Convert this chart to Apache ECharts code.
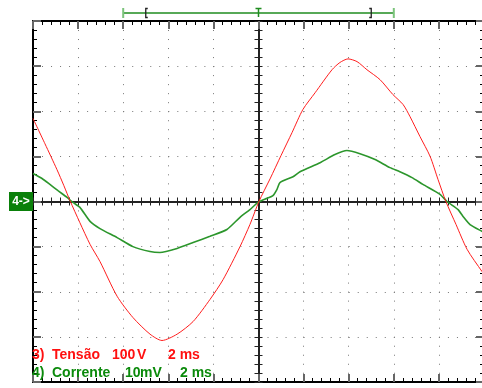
<!DOCTYPE html>
<html><head><meta charset="utf-8">
<script src="https://cdn.jsdelivr.net/npm/echarts@6/dist/echarts.min.js"></script>
<style>html,body{margin:0;padding:0;background:#fff}#c{width:482px;height:388px}</style>
</head><body><div id="c"></div>
<script>
// Channel 3: Tensão (V), 100 V/div, 2 ms/div
const redTime = [0, 0.53, 1.06, 1.37, 1.64, 2.08, 2.53, 2.97, 3.73, 4.43, 5.19, 5.72, 6.39, 7.10, 7.85, 8.43, 9.18, 9.62, 10.02, 10.51, 11.0, 11.49, 11.97, 12.51, 13.26, 13.61, 13.97, 14.37, 14.81, 15.39, 15.96, 16.41, 16.72, 17.16, 17.61, 17.96, 18.31, 18.76, 19.25, 19.91, 20];
const redVolts = [184, 128, 71, 35, 2, -47, -95, -133, -210, -257, -294, -308, -294, -266, -217, -173, -100, -51, 0, 50, 102, 153, 204, 241, 292, 308, 316, 310, 292, 270, 237, 215, 188, 144, 100, 49, 0, -51, -106, -155, -160];
// Channel 4: Corrente (mV), 10 mV/div
const greenTime = [0, 0.40, 0.75, 1.11, 1.51, 1.77, 2.08, 2.53, 2.97, 3.73, 4.43, 5.19, 5.63, 6.39, 7.10, 7.85, 8.60, 9.18, 9.62, 9.98, 10.38, 10.64, 10.82, 10.95, 11.53, 11.84, 12.73, 13.39, 13.92, 14.50, 15.17, 15.83, 16.27, 16.81, 17.29, 18.05, 18.36, 18.85, 19.07, 19.38, 19.91, 20];
const greenMilliVolts = [6.2, 5.1, 3.8, 2.4, 0.9, -0.2, -1.3, -4.4, -6.0, -8.0, -10.0, -11.1, -11.3, -10.4, -9.1, -7.7, -6.2, -3.5, -1.8, -0.2, 0.7, 1.3, 2.7, 4.2, 5.5, 6.6, 8.6, 10.4, 11.3, 10.6, 9.3, 7.5, 6.6, 5.3, 3.8, 1.6, 0, -1.8, -3.3, -5.1, -6.6, -6.8];
// Trigger / cursor markers on the time axis (ms)
const markerEnds = [4, 16];
const markerBrackets = [5, 15];
const markerTrigger = 10;
const redLabel = [['3)', 32], ['Tensão', 52], ['100', 112], ['V', 137], ['2 ms', 168]];
const greenLabel = [['4)', 32], ['Corrente', 52], ['10', 125], ['mV', 140], ['2 ms', 180]];

const GL = 33, GT = 21, GW = 451, GH = 361;
const chart = echarts.init(document.getElementById('c'), null, {renderer: 'canvas'});

function frameAxis(kind, pos, split) {
  const isX = kind === 'x';
  return {
    type: 'value', position: pos,
    min: isX ? 0 : -400, max: isX ? 20 : 400, interval: isX ? 2 : 100,
    axisLine: {show: true, onZero: false, lineStyle: {color: '#000', width: 2}},
    axisTick: {show: true, inside: true, length: 8, lineStyle: {color: '#666', width: 2}},
    minorTick: {show: true, splitNumber: 5, length: 4, lineStyle: {color: '#000', width: 1}},
    axisLabel: {show: false},
    splitLine: {show: split, lineStyle: {color: '#777', width: 1, type: [1, 8.02]}},
    minorSplitLine: {show: false}
  };
}
function centerAxis(kind, inside) {
  const isX = kind === 'x';
  return {
    type: 'value', position: isX ? 'bottom' : 'left',
    offset: isX ? -GH / 2 : -GW / 2,
    min: isX ? 0 : -400, max: isX ? 20 : 400, interval: isX ? 2 : 100,
    axisLine: {show: true, onZero: false, lineStyle: {color: '#222', width: 2}},
    axisTick: {show: true, inside: inside, length: 4, lineStyle: {color: '#222', width: 1}},
    minorTick: {show: true, splitNumber: 5, length: 4, lineStyle: {color: '#222', width: 1}},
    axisLabel: {show: false},
    splitLine: {show: false}
  };
}

chart.setOption({
  animation: false,
  backgroundColor: '#fff',
  grid: {left: GL, top: GT, width: GW, height: GH, containLabel: false, outerBoundsMode: 'none', show: false},
  xAxis: [frameAxis('x', 'bottom', true), frameAxis('x', 'top', false), centerAxis('x', false), centerAxis('x', true)],
  yAxis: [frameAxis('y', 'left', true), frameAxis('y', 'right', false), centerAxis('y', false), centerAxis('y', true),
    {type: 'value', min: -40, max: 40, show: false}],
  series: [
    {type: 'line', name: 'Tensão', xAxisIndex: 0, yAxisIndex: 0, showSymbol: false, symbol: 'none', smooth: 0.25,
      data: redTime.map((t, i) => [t, redVolts[i]]),
      lineStyle: {color: '#ff1e1e', width: 1}, z: 5},
    {type: 'line', name: 'Corrente', xAxisIndex: 0, yAxisIndex: 4, showSymbol: false, symbol: 'none', smooth: 0.2,
      data: greenTime.map((t, i) => [t, greenMilliVolts[i]]),
      lineStyle: {color: '#2c962c', width: 1.6}, z: 4}
  ]
});

const px = t => chart.convertToPixel({xAxisIndex: 0}, t);
const g = [];
const my = 13;
g.push({type: 'line', shape: {x1: px(markerEnds[0]), y1: my, x2: px(markerEnds[1]), y2: my}, style: {stroke: '#1f8c1f', lineWidth: 1.5}});
markerEnds.forEach(t => g.push({type: 'line', shape: {x1: px(t), y1: 8, x2: px(t), y2: 18}, style: {stroke: '#7cc47c', lineWidth: 2}}));
const tx = px(markerTrigger);
g.push({type: 'line', shape: {x1: tx, y1: 8, x2: tx, y2: 17}, style: {stroke: '#1f8c1f', lineWidth: 1.5}});
g.push({type: 'line', shape: {x1: tx - 3, y1: 8.5, x2: tx + 3, y2: 8.5}, style: {stroke: '#1f8c1f', lineWidth: 1.5}});
markerBrackets.forEach((t, i) => {
  const x = px(t), d = i === 0 ? 2 : -2;
  g.push({type: 'polyline', shape: {points: [[x + d, 8.5], [x, 8.5], [x, 17.5], [x + d, 17.5]]}, style: {stroke: '#222', lineWidth: 1.3, fill: null}});
});
g.push({type: 'rect', shape: {x: 9, y: 192, width: 24, height: 19}, style: {fill: '#0a800a'}, z: 10});
g.push({type: 'text', x: 21, y: 201.5, style: {text: '4->', fill: '#fff', font: 'bold 12px "Liberation Sans", Arial, sans-serif', align: 'center', verticalAlign: 'middle'}, z: 11});
redLabel.forEach(([s, x]) => g.push({type: 'text', x: x, y: 355, style: {text: s, fill: '#ff1010', font: 'bold 14px "Liberation Sans", Arial, sans-serif', verticalAlign: 'middle'}, z: 10}));
greenLabel.forEach(([s, x]) => g.push({type: 'text', x: x, y: 373, style: {text: s, fill: '#0b8a0b', font: 'bold 14px "Liberation Sans", Arial, sans-serif', verticalAlign: 'middle'}, z: 10}));
chart.setOption({graphic: g});
</script></body></html>
